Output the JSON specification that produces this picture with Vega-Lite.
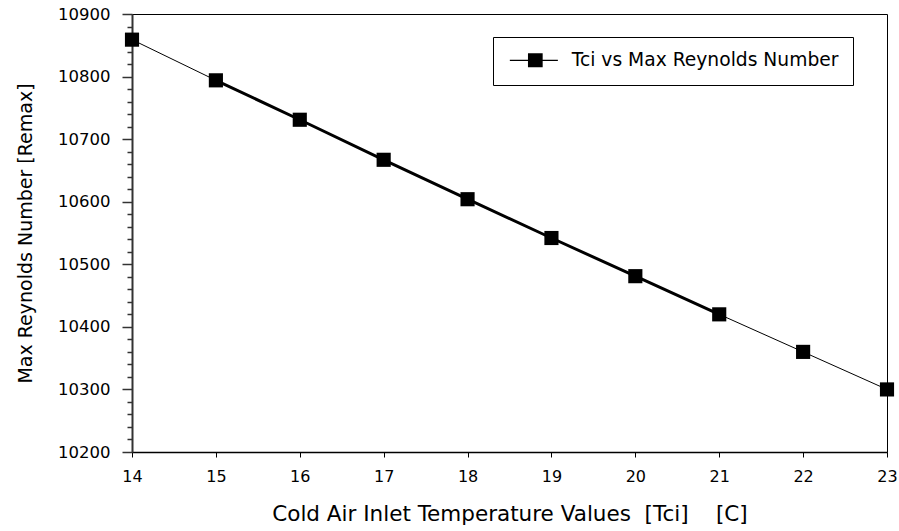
{
  "$schema": "https://vega.github.io/schema/vega-lite/v6.json",
  "width": 755,
  "height": 438,
  "autosize": "none",
  "padding": {"left": 132, "top": 14, "right": 12, "bottom": 79},
  "background": "white",
  "config": {
    "view": {"stroke": "black", "strokeWidth": 1},
    "font": "DejaVu Sans",
    "axis": {"labelFont": "DejaVu Sans", "titleFont": "DejaVu Sans", "labelColor": "black", "titleColor": "black", "titleFontWeight": "normal", "grid": false}
  },
  "data": {
    "values": [
      {"tci": 14, "remax": 10859, "series": "Tci vs Max Reynolds Number"},
      {"tci": 15, "remax": 10794, "series": "Tci vs Max Reynolds Number"},
      {"tci": 16, "remax": 10731, "series": "Tci vs Max Reynolds Number"},
      {"tci": 17, "remax": 10667, "series": "Tci vs Max Reynolds Number"},
      {"tci": 18, "remax": 10604, "series": "Tci vs Max Reynolds Number"},
      {"tci": 19, "remax": 10542, "series": "Tci vs Max Reynolds Number"},
      {"tci": 20, "remax": 10481, "series": "Tci vs Max Reynolds Number"},
      {"tci": 21, "remax": 10420, "series": "Tci vs Max Reynolds Number"},
      {"tci": 22, "remax": 10360, "series": "Tci vs Max Reynolds Number"},
      {"tci": 23, "remax": 10300, "series": "Tci vs Max Reynolds Number"}
    ]
  },
  "layer": [
    {
      "mark": {"type": "line", "color": "black", "strokeWidth": 1},
      "encoding": {
        "x": {
          "field": "tci", "type": "quantitative",
          "scale": {"domain": [14, 23], "zero": false, "nice": false},
          "axis": {
            "values": [14, 15, 16, 17, 18, 19, 20, 21, 22, 23],
            "format": "d",
            "labelFlush": false,
            "title": "Cold Air Inlet Temperature Values \u00a0[Tci] \u00a0 \u00a0[C]",
            "titleFontSize": 21.5, "titlePadding": 19,
            "labelFontSize": 16, "labelPadding": 11,
            "tickSize": 5, "tickColor": "black", "tickWidth": 1,
            "domainColor": "black", "domainWidth": 1.5
          }
        },
        "y": {
          "field": "remax", "type": "quantitative",
          "scale": {"domain": [10200, 10900], "zero": false, "nice": false},
          "axis": {
            "orient": "left",
            "values": [10200, 10300, 10400, 10500, 10600, 10700, 10800, 10900],
            "format": "d",
            "labelFlush": false,
            "title": "Max Reynolds Number [Remax]",
            "titleFontSize": 19, "titlePadding": 22,
            "labelFontSize": 16.5, "labelPadding": 12,
            "tickSize": 10, "tickColor": "#333", "tickWidth": 1.5,
            "domainColor": "#333", "domainWidth": 2
          }
        }
      }
    },
    {
      "transform": [{"filter": "datum.tci >= 15 && datum.tci <= 21"}],
      "mark": {"type": "line", "color": "black", "strokeWidth": 3},
      "encoding": {
        "x": {"field": "tci", "type": "quantitative"},
        "y": {
          "field": "remax", "type": "quantitative",
          "axis": {
            "orient": "left",
            "values": [10220, 10240, 10260, 10280, 10320, 10340, 10360, 10380, 10420, 10440, 10460, 10480, 10520, 10540, 10560, 10580, 10620, 10640, 10660, 10680, 10720, 10740, 10760, 10780, 10820, 10840, 10860, 10880],
            "labels": false, "title": null, "domain": false,
            "tickSize": 5, "tickColor": "#333", "tickWidth": 1.5
          }
        }
      }
    },
    {
      "mark": {"type": "point", "shape": "square", "filled": true, "size": 200, "opacity": 1},
      "encoding": {
        "x": {"field": "tci", "type": "quantitative"},
        "y": {"field": "remax", "type": "quantitative", "axis": null},
        "color": {
          "field": "series", "type": "nominal",
          "scale": {"domain": ["Tci vs Max Reynolds Number"], "range": ["black"]},
          "legend": {
            "orient": "none", "legendX": 361, "legendY": 23,
            "title": null,
            "padding": 14,
            "strokeColor": "black", "fillColor": "white",
            "symbolType": "M-0.93,-0.08H5.93V0.08H-0.93ZM1.66,-1.0H3.76V1.0H1.66Z",
            "symbolSize": 196,
            "symbolStrokeWidth": 1,
            "labelOffset": 46,
            "labelFontSize": 18.7, "labelFont": "DejaVu Sans", "labelColor": "black",
            "labelLimit": 400,
            "encode": {
              "symbols": {"update": {"fill": {"value": "black"}, "opacity": {"value": 1}}}
            }
          }
        }
      }
    }
  ],
  "resolve": {"axis": {"y": "independent"}}
}
